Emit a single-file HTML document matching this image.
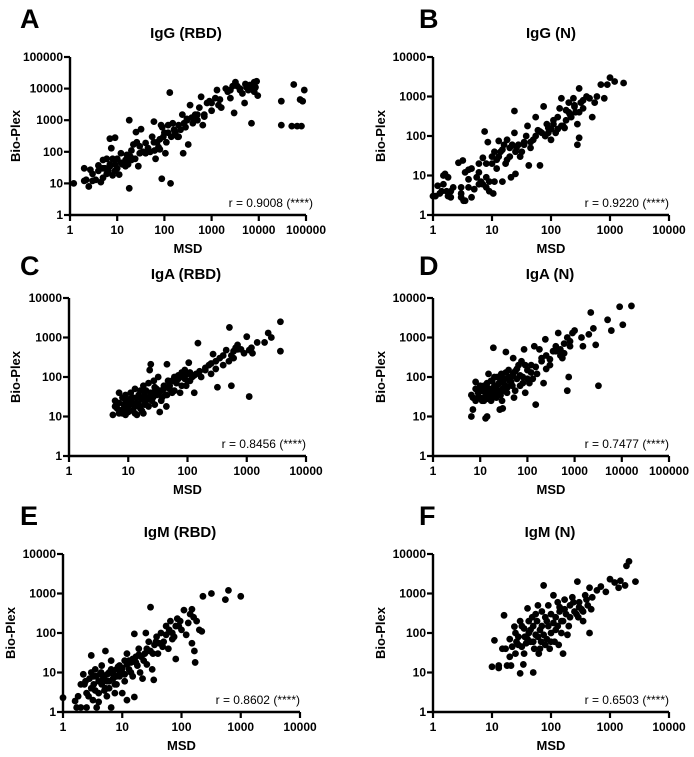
<!DOCTYPE html>
<html><head><meta charset="utf-8"><style>
html,body{margin:0;padding:0;background:#fff;}
svg{display:block;font-family:"Liberation Sans",Arial,sans-serif;}
.tk{font-size:12px;font-weight:bold;fill:#000;}
.ttl{font-size:15px;font-weight:bold;}
.ax{font-size:13px;font-weight:bold;}
.lt{font-size:27px;font-weight:bold;}
.rv{font-size:12px;}
</style></head><body>
<svg id="fig" width="694" height="757" viewBox="0 0 694 757"></svg>
<script>
// ---- data (MSD, Bio-Plex) ----
const aX=[1.2,2,2,2.2,2.5,2.7,3,3.5,4,4,4.5,5,5,5.5,6,6,6.5,7,7,7.5,8,8,9,9,10,10,11,12,13,15,16,17,18,18,19,20,20,22,24,25,26,28,30,32,35,40,45,50,55,60,62,65,70,75,80,85,88,90,95,100,105,110,120,130,135,140,150,160,170,190,200,220,240,250,260,280,300,320,350,380,400,450,500,550,600,650,700,800,900,1000,1200,1300,1400,1600,2000,2200,2500,2800,3000,3200,3500,4000,4500,5000,5200,5500,6000,6500,7000,7500,8000,8500,9000,9500,30000,30000,55000,50000,65000,75000,80000,85000,92000,3,5,7,9,12,15,20,30,40,60,80,120,200,300,500,700,1000,1500,2500,4000,6000,8000];
const aY=[10,12,30,13,8,27,12,13,25,37,11,15,55,30,20,60,25,35,260,130,18,60,40,280,60,30,19,45,40,55,80,40,7,1000,70,55,110,170,60,420,200,35,90,520,100,190,130,100,300,900,110,60,200,140,250,700,14,600,300,400,90,200,700,7500,10,300,800,500,400,300,700,500,1500,90,800,600,1000,170,3000,1200,800,1500,1000,2500,5500,700,1500,3500,4000,2000,5000,9000,3000,2500,10000,8000,5000,12000,1700,16000,12000,9000,7000,3500,14000,11000,10000,13000,800,9000,16000,11000,17000,6000,700,4000,13500,650,650,4500,650,4000,9000,20,30,40,25,90,35,60,150,90,200,120,400,300,1100,1500,1300,3500,4500,9000,10000,9000,8000];
const bX=[1,1.1,1.2,1.3,1.5,1.5,1.6,1.7,1.8,1.8,2,2,2.7,3,3,3.2,3.3,3.5,3.5,4,4,4.5,4.5,5,5.5,6,6,6.5,7,7,7.5,8,8,8.5,9,9,10,10,10.5,11,11,12,13,13,14,15,16,17,18,18,20,21,22,24,24,25,26,28,30,32,35,38,40,42,45,50,55,60,65,70,75,80,85,90,100,100,110,120,130,140,150,160,170,180,200,210,220,240,250,260,280,280,300,300,320,350,400,450,500,550,600,700,800,900,1000,1200,1700,1.4,2.2,3,4,6,8,12,15,20,25,35,45,55,65,80,90,110,130,150,180,200,250,300,350];
const bY=[3,3,5.5,3.5,6,10,11,4,9,3,4,2.8,21,2.8,5,24,2.3,12,2.3,14,8,2.8,15,4.5,9,6,20,7,28,6,130,9,5,70,4,7,30,20,3.5,7,40,15,30,75,40,7,60,20,25,80,50,9,60,430,120,11,50,60,30,40,70,100,180,18,50,80,300,140,18,120,560,100,200,160,150,80,250,120,300,500,900,180,160,450,700,350,300,900,550,400,60,200,90,1600,700,500,1000,900,300,700,1000,2000,900,2000,3000,2400,2200,4,5,3.5,5,12,20,25,45,30,40,60,70,100,130,100,120,200,150,180,250,400,600,400,800];
const cX=[5.5,6,6.5,7,7,7.5,8,8,8.5,9,9,9.5,10,10,11,11,12,12,13,13,14,14,15,16,17,18,18,19,20,21,22,23,24,25,26,27,28,30,32,34,35,37,40,42,44,45,47,50,55,60,65,70,75,80,85,90,95,100,105,110,120,130,140,150,170,200,230,250,270,300,320,350,400,450,500,510,550,550,600,650,700,800,900,1000,1100,1200,1250,1500,2000,2300,2600,3700,3700,6,7,8,9,10,11,12,13,14,15,16,17,19,20,22,24,26,28,30,33,36,40,45,50,55,60,70,80,90,100,110,130,160,200,250,300,400,600,700,1100];
const cY=[11,25,16,40,22,14,30,12,20,35,11,17,25,13,20,40,14,30,18,50,22,11,35,16,27,12,60,20,45,30,70,150,210,25,40,80,55,35,100,13,45,30,60,35,18,210,80,50,40,100,70,90,40,130,100,150,60,120,230,80,100,40,120,720,100,150,200,120,380,250,55,300,200,480,250,1800,60,350,300,550,650,500,400,1050,32,550,400,750,750,1300,1000,450,2500,18,12,15,25,18,28,22,12,30,20,45,14,35,25,18,40,30,20,50,40,25,50,35,60,80,45,110,60,90,80,130,110,140,170,220,160,350,450,500,480];
const dX=[6.5,6.5,7,7,8,8,9,9,10,10,11,12,13,13,14,14,15,15,16,17,18,19,20,20,22,23,24,25,26,27,28,30,30,32,34,35,37,40,42,45,48,50,52,55,60,65,70,75,80,85,90,100,110,120,130,140,150,160,180,200,220,240,250,300,350,400,450,500,550,600,700,700,750,800,900,1000,1400,1500,2000,2200,2500,2800,3200,5000,6000,9000,10500,16000,8,9,10,11,12,13,14,15,16,17,18,20,21,22,24,25,27,29,31,33,35,38,41,45,50,55,60,70,80,90,100,120,150,200,250,300,400,500,600,800];
const dY=[35,10,15,30,25,75,40,50,30,60,45,25,40,9,10,70,35,120,50,25,80,550,40,60,30,100,45,70,15,35,120,50,16,90,60,430,40,150,80,100,60,300,30,140,90,200,60,250,100,500,40,150,70,200,90,600,20,120,500,250,70,900,350,200,450,600,1300,500,300,400,1000,45,100,600,1300,1500,1000,600,1200,4300,1700,650,60,2800,1500,6000,2100,6300,50,30,45,25,60,35,55,28,40,80,30,100,50,35,65,40,90,25,70,45,130,55,100,75,120,45,160,110,70,200,90,130,180,300,160,280,450,350,700,800];
const eX=[1,1.6,1.7,1.8,2,2.2,2.3,2.5,2.5,2.8,3,3,3.2,3.3,3.5,3.5,3.7,4,4,4.2,4.5,4.5,5,5,5.2,5.5,5.5,6,6,6.5,6.5,7,7.5,8,8,9,9,10,10,11,11,12,12,13,14,15,16,16,17,18,19,20,22,24,25,26,28,30,30,32,34,35,38,40,45,50,55,60,65,70,75,80,85,90,100,110,120,150,150,160,165,170,180,200,220,230,320,550,620,1000,2,2.4,2.7,3,3.3,3.6,4,4.4,4.8,5.2,5.6,6,6.5,7,7.5,8,8.5,9,10,11,12,13,14,15,17,19,21,23,26,29,33,37,42,48,55,62,70,80,95,130,140];
const eY=[2.3,1.9,1.3,2.5,1.3,9,5,1.3,3,7,4,27,2,8,3.5,12,1.3,6,1.8,9,5,15,3.5,8,35,6,2.5,10,4,1.3,20,7,3,12,5,15,8,10,3,20,6,2,30,12,18,8,95,2.4,25,15,40,10,7,30,100,16,60,450,35,12,6.5,50,80,30,100,60,150,40,200,100,80,22,230,150,120,380,90,400,55,250,35,18,200,120,110,850,1000,700,1200,850,5,6,2.5,10,5,8,3,10,7,4,9,6,12,9,5,8,14,11,13,9,16,20,10,22,18,28,25,20,40,35,30,60,55,45,90,120,70,150,200,180,300];
const fX=[10,11,13,13,16,17,18,20,21,22,24,25,26,28,30,30,32,34,35,36,38,40,42,45,48,50,50,52,55,58,60,62,65,68,70,75,75,80,85,90,95,100,100,110,115,120,130,135,140,150,160,160,170,180,200,210,230,250,280,290,300,330,350,400,450,450,480,700,850,1000,1200,1400,1500,1800,1900,2100,2700,15,20,25,28,32,35,40,42,45,50,55,60,65,70,80,85,90,100,110,120,130,140,150,170,190,210,240,270,300,350,380,420,500,600];
const fY=[14,65,15,13,280,40,15,70,15,45,145,30,60,80,200,9.5,45,16,130,80,55,420,100,60,250,10,150,40,90,200,500,30,120,60,350,1600,90,50,200,150,40,300,100,900,60,250,150,50,450,100,30,200,700,300,150,500,800,350,2000,250,600,400,200,700,100,1400,400,1500,1100,2300,1900,1400,2100,1600,5000,6500,2000,40,25,100,50,150,30,70,200,120,60,300,80,40,150,250,70,500,60,180,120,600,350,200,400,90,250,600,300,450,350,900,500,800,1200];
const panels=[
 {id:'a',L:'A',title:'IgG (RBD)',r:'r = 0.9008 (****)',x0:70,x1:306,yt:57,yb:215,xd:5,yd:5,xs:aX,ys:aY,lx:20,tx:186,ytx:15},
 {id:'b',L:'B',title:'IgG (N)',r:'r = 0.9220 (****)',x0:433,x1:669,yt:57,yb:215,xd:4,yd:4,xs:bX,ys:bY,lx:419,tx:551,ytx:380},
 {id:'c',L:'C',title:'IgA (RBD)',r:'r = 0.8456  (****)',x0:69,x1:306,yt:298,yb:456,xd:4,yd:4,xs:cX,ys:cY,lx:20,tx:186,ytx:15},
 {id:'d',L:'D',title:'IgA (N)',r:'r = 0.7477 (****)',x0:433,x1:669,yt:298,yb:456,xd:5,yd:4,xs:dX,ys:dY,lx:419,tx:550,ytx:380},
 {id:'e',L:'E',title:'IgM (RBD)',r:'r = 0.8602  (****)',x0:63,x1:300,yt:554,yb:712,xd:4,yd:4,xs:eX,ys:eY,lx:20,tx:180,ytx:10,tb:537},
 {id:'f',L:'F',title:'IgM (N)',r:'r = 0.6503  (****)',x0:433,x1:669,yt:554,yb:712,xd:4,yd:4,xs:fX,ys:fY,lx:419,tx:550,ytx:380,tb:537}
];
const NS='http://www.w3.org/2000/svg';
const svg=document.getElementById('fig');
function mk(tag,attrs,parent,text){const e=document.createElementNS(NS,tag);for(const k in attrs)e.setAttribute(k,attrs[k]);if(text!==undefined)e.textContent=text;parent.appendChild(e);return e;}
panels.forEach(p=>{
 const g=mk('g',{},svg);
 
 
 const sx=v=>p.x0+Math.log10(v)/p.xd*(p.x1-p.x0);
 const sy=v=>p.yb-Math.log10(v)/p.yd*(p.yb-p.yt);
 const lt=mk('text',{x:p.lx,y:p.yt-(p.id==='c'||p.id==='d'?23:29),class:'lt'},g,p.L);
 
 
 const tb=p.tb||(p.yt-19);
 const t=mk('text',{x:p.tx,y:tb,class:'ttl','text-anchor':'middle'},g,p.title);
 
 
 const ya=mk('line',{x1:p.x0,y1:p.yt,x2:p.x0,y2:p.yb+1.2,stroke:'#000','stroke-width':2.4},g);
 
 
 const xa=mk('line',{x1:p.x0-1.2,y1:p.yb,x2:p.x1,y2:p.yb,stroke:'#000','stroke-width':2.4},g);
 
 
 for(let i=0;i<=p.yd;i++){const v=Math.pow(10,i),y=sy(v);
  mk('line',{x1:p.x0-6,y1:y,x2:p.x0,y2:y,stroke:'#000','stroke-width':2.2},g);
  const l=mk('text',{x:p.x0-7,y:y+4,class:'tk','text-anchor':'end'},g,String(v));
  
  }
 for(let i=0;i<=p.xd;i++){const v=Math.pow(10,i),x=sx(v);
  mk('line',{x1:x,y1:p.yb,x2:x,y2:p.yb+6,stroke:'#000','stroke-width':2.2},g);
  const l=mk('text',{x:x,y:p.yb+19,class:'tk','text-anchor':'middle'},g,String(v));
  
  }
 const xt=mk('text',{x:(p.x0+p.x1)/2,y:p.yb+38,class:'ax','text-anchor':'middle'},g,'MSD');
 
 
 const cy=(p.yt+p.yb)/2;
 const yt=mk('text',{x:p.ytx+5,y:cy,class:'ax','text-anchor':'middle',transform:'rotate(-90 '+(p.ytx+5)+' '+cy+')'},g,'Bio-Plex');
 
 
 const r=mk('text',{x:p.x1+(p.id==='a'?7:0),y:p.yb-8,class:'rv','text-anchor':'end'},g,p.r);
 
 
 for(let i=0;i<p.xs.length;i++){
  const c=mk('circle',{cx:sx(p.xs[i]),cy:sy(p.ys[i]),r:3.4,fill:'#000'},g);
  
  
 }
});
</script>
</body></html>
